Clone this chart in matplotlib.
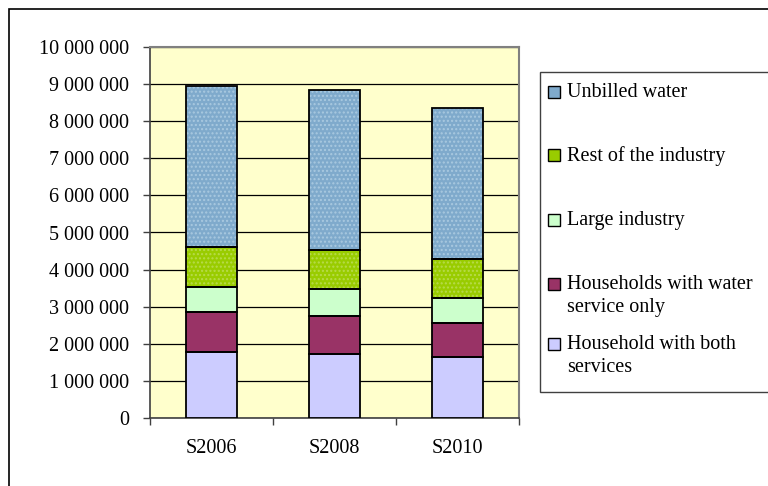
import matplotlib
matplotlib.use("Agg")
import matplotlib.pyplot as plt
from matplotlib.patches import Rectangle
from matplotlib.ticker import FuncFormatter, MultipleLocator, FixedLocator
import numpy as np

plt.rcParams['font.family'] = ['Liberation Serif', 'DejaVu Serif']

# water volumes by user group
years = ["S2006", "S2008", "S2010"]
household_both = [1770000, 1720000, 1650000]
household_water_only = [1080000, 1040000, 900000]
large_industry = [690000, 730000, 690000]
rest_industry = [1080000, 1040000, 1040000]
unbilled = [4330000, 4310000, 4080000]

series = [
    ("Household with both\nservices", household_both, "#CCCCFF", None),
    ("Households with water\nservice only", household_water_only, "#993366", None),
    ("Large industry", large_industry, "#CCFFCC", None),
    ("Rest of the industry", rest_industry, "#99CC00", "#B8DB4C"),
    ("Unbilled water", unbilled, "#7FAACC", "#A9C9E0"),
]

fig = plt.figure(figsize=(7.68, 4.86), dpi=100)
W, H = 768, 486
FS = 14.5

# outer chart frame
fig.patches.append(Rectangle((9 / W, -0.1), 2, (H - 9) / H + 0.1,
                             transform=fig.transFigure, facecolor="none",
                             edgecolor="black", linewidth=1.2))

ax = fig.add_axes([150 / W, (H - 418) / H, 369 / W, 371 / H])
ax.set_facecolor("#FFFFCC")

x = np.arange(len(years))
width = 0.41
bottom = np.zeros(len(years))
for label, vals, color, dots in series:
    vals = np.array(vals)
    if dots:
        ax.bar(x, vals, width, bottom=bottom, color=color, edgecolor=dots,
               hatch="....", linewidth=0, zorder=3)
    else:
        ax.bar(x, vals, width, bottom=bottom, color=color, linewidth=0, zorder=3)
    ax.bar(x, vals, width, bottom=bottom, facecolor="none", edgecolor="black",
           linewidth=1.3, zorder=4)
    bottom += vals

ax.set_xlim(-0.5, len(years) - 0.5)
ax.set_ylim(0, 10000000)
ax.yaxis.set_major_locator(MultipleLocator(1000000))
ax.yaxis.set_major_formatter(FuncFormatter(lambda v, p: f"{int(v):,}".replace(",", " ")))
ax.grid(axis="y", color="black", linewidth=0.9, zorder=1)
ax.set_axisbelow(True)

ax.set_xticks(x)
ax.set_xticklabels(years)
ax.xaxis.set_minor_locator(FixedLocator(np.arange(-0.5, len(years), 1.0)))
ax.tick_params(axis="x", which="major", length=0, pad=15, labelsize=FS)
ax.tick_params(axis="x", which="minor", length=5, width=1, direction="out", color="#404040")
ax.tick_params(axis="y", length=5, width=1, direction="out", pad=10, labelsize=FS,
               color="#404040")

for side in ["top", "right"]:
    ax.spines[side].set_color("#808080")
    ax.spines[side].set_linewidth(1.5)
for side in ["left", "bottom"]:
    ax.spines[side].set_color("#404040")
    ax.spines[side].set_linewidth(1.2)

# legend panel on the right
fig.patches.append(Rectangle((540 / W, (H - 392) / H), 0.5, 320 / H,
                             transform=fig.transFigure, facecolor="white",
                             edgecolor="#404040", linewidth=1.0))
legend_rows = [92, 155, 220, 284, 344]
for (label, vals, color, dots), yrow in zip(series[::-1], legend_rows):
    fig.patches.append(Rectangle((548 / W, (H - yrow - 6) / H), 12 / W, 12 / H,
                                 transform=fig.transFigure, facecolor=color,
                                 edgecolor="black", linewidth=1.0))
    fig.text(567 / W, (H - yrow + 9) / H, label, fontsize=FS, ha="left", va="top",
             linespacing=1.3)

fig.savefig("out.png", dpi=100)
